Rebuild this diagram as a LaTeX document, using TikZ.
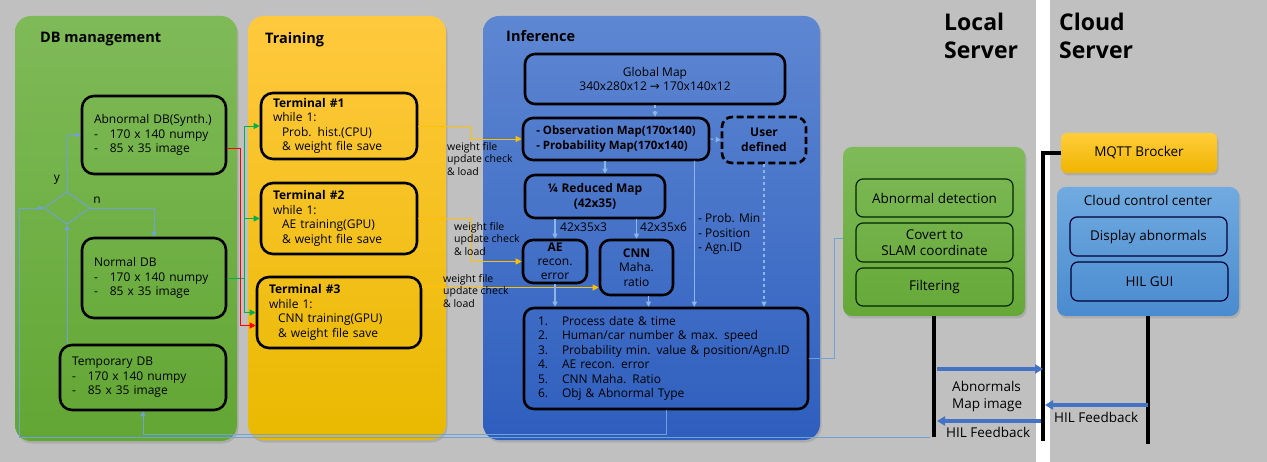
\documentclass[tikz,border=0pt]{standalone}
\usepackage{fontspec}
\setmainfont{Open Sans}
\newfontfamily\arrowfont{DejaVu Sans}
\usetikzlibrary{shapes.geometric,arrows.meta,shadows}

\definecolor{bgc}{HTML}{C0C0C0}
\definecolor{dbgA}{HTML}{7FBA58}
\definecolor{dbgB}{HTML}{62A634}
\definecolor{trA}{HTML}{FFC93E}
\definecolor{trB}{HTML}{E9B900}
\definecolor{infA}{HTML}{5E87D2}
\definecolor{infB}{HTML}{2E5EBE}
\definecolor{mqA}{HTML}{FFCD3A}
\definecolor{mqB}{HTML}{F0B400}
\definecolor{ccA}{HTML}{70AAE0}
\definecolor{ccB}{HTML}{4A8BCF}
\definecolor{flowc}{HTML}{6FA3D8}
\definecolor{iflowc}{HTML}{8DB6E8}
\definecolor{barrc}{HTML}{4472C4}
\definecolor{gline}{HTML}{00B050}
\definecolor{wline}{HTML}{FFC000}

\tikzset{
  panel/.style={rounded corners=16pt, inner sep=0pt, outer sep=0pt,
    drop shadow={shadow xshift=1.5pt, shadow yshift=-2.5pt, opacity=0.3}},
  ptitle/.style={anchor=west, inner sep=0pt, font=\fontsize{14.5}{17}\selectfont\bfseries},
  dbbox/.style={draw=black, line width=2.6pt, rounded corners=12pt, align=left,
    inner xsep=12pt, inner ysep=0pt},
  ibox/.style={draw=black, line width=2.6pt, rounded corners=10pt, align=center,
    inner sep=0pt},
  sbox/.style={draw=black!85!green, line width=1.2pt, rounded corners=7pt,
    inner sep=0pt, font=\fontsize{13.5}{17}\selectfont},
  small/.style={inner sep=0pt, align=left, font=\fontsize{10.5}{12.5}\selectfont},
  lbl/.style={inner sep=0pt, align=left, font=\fontsize{13.5}{17}\selectfont},
  head/.style={anchor=north west, inner sep=0pt, align=left,
    font=\fontsize{23}{28}\selectfont\bfseries},
  dbflow/.style={draw=flowc, line width=0.9pt, -{Triangle[length=5pt,width=5pt]}},
  iflow/.style={draw=iflowc, line width=1.1pt, -{Triangle[length=5pt,width=5pt]}},
  gflow/.style={draw=gline, line width=0.9pt},
  rflow/.style={draw=red, line width=0.9pt, -{Triangle[length=6pt,width=6pt]}},
  wflow/.style={draw=wline, line width=0.9pt, -{Triangle[length=6pt,width=6pt]}},
  blk/.style={draw=black, line width=4pt},
  barr/.style={draw=barrc, line width=3.5pt, -{Triangle[length=8pt,width=9pt]}},
}

\begin{document}
\begin{tikzpicture}[x=1pt,y=-1pt,font=\fontsize{12}{14.5}\selectfont]
  \fill[bgc] (0,0) rectangle (1267,462);
  \useasboundingbox (0,0) rectangle (1267,462);
  \fill[white] (1036,0) rectangle (1050,462);

  % three columns
  \node[panel, top color=dbgA, bottom color=dbgB, minimum width=222, minimum height=425] (dbp) at (126,228.5) {};
  \node[panel, top color=trA, bottom color=trB, minimum width=198, minimum height=424] (trp) at (347,228) {};
  \node[panel, top color=infA, bottom color=infB, minimum width=337, minimum height=424] (infp) at (651.5,228) {};

  \node[ptitle] (dbt) at (40,39) {DB management};
  \node[ptitle] (trt) at (265,40) {Training};
  \node[ptitle] (inft) at (506,36) {Inference};

  % DB management
  \node[dbbox, minimum width=144, minimum height=78, text width=120] (abn) at (154,135)
    {Abnormal DB(Synth.)\\-\hspace{12pt}170 x 140 numpy\\-\hspace{12pt}85 x 35 image};
  \node[dbbox, minimum width=144, minimum height=80, text width=120] (nrm) at (154,278)
    {Normal DB\\-\hspace{12pt}170 x 140 numpy\\-\hspace{12pt}85 x 35 image};
  \node[dbbox, minimum width=166, minimum height=65, text width=142] (tmp) at (143,377.5)
    {Temporary DB\\-\hspace{12pt}170 x 140 numpy\\-\hspace{12pt}85 x 35 image};
  \node[diamond, draw=flowc, line width=0.9pt, minimum width=46, minimum height=33, inner sep=0pt] (dec) at (67,208) {};
  \node[inner sep=0pt] (ly) at (57,180) {y};
  \node[inner sep=0pt] (ln) at (97,200) {n};

  % Training
  \node[dbbox, minimum width=156, minimum height=66, text width=132] (t1) at (339,126)
    {\textbf{Terminal \#1}\\while 1:\\\hspace*{9pt}Prob. hist.(CPU)\\\hspace*{9pt}\& weight file save};
  \node[dbbox, minimum width=156, minimum height=71, text width=132] (t2) at (339,218.5)
    {\textbf{Terminal \#2}\\while 1:\\\hspace*{9pt}AE training(GPU)\\\hspace*{9pt}\& weight file save};
  \node[dbbox, minimum width=164, minimum height=71, text width=140] (t3) at (339,312.5)
    {\textbf{Terminal \#3}\\while 1:\\\hspace*{9pt}CNN training(GPU)\\\hspace*{9pt}\& weight file save};

  % Inference
  \node[ibox, minimum width=260, minimum height=50] (gm) at (655,79)
    {Global Map\\340x280x12 {\arrowfont→} 170x140x12};
  \node[ibox, minimum width=186, minimum height=42, align=left, font=\fontsize{11.5}{14.5}\selectfont\bfseries] (obs) at (616,139)
    {- Observation Map(170x140)\\- Probability Map(170x140)};
  \node[ibox, dash pattern=on 7pt off 3.5pt, minimum width=84, minimum height=46, font=\fontsize{12}{14.5}\selectfont\bfseries] (ud) at (764,140)
    {User\\defined};
  \node[ibox, minimum width=140, minimum height=43, font=\fontsize{12}{15}\selectfont\bfseries] (red) at (595,196.5)
    {¼ Reduced Map\\(42x35)};
  \node[ibox, minimum width=64, minimum height=43, font=\fontsize{12}{14}\selectfont] (ae) at (555,261.5)
    {\textbf{AE}\\recon.\\error};
  \node[ibox, minimum width=73, minimum height=55, font=\fontsize{12}{14.5}\selectfont] (cnn) at (636.5,267.5)
    {\textbf{CNN}\\Maha.\\ratio};
  \node[ibox, minimum width=284, minimum height=101, align=left, text width=256, inner xsep=14pt] (res) at (666,358.5)
    {\makebox[24pt][l]{1.}Process date \& time\\
     \makebox[24pt][l]{2.}Human/car number \& max. speed\\
     \makebox[24pt][l]{3.}Probability min. value \& position/Agn.ID\\
     \makebox[24pt][l]{4.}AE recon. error\\
     \makebox[24pt][l]{5.}CNN Maha. Ratio\\
     \makebox[24pt][l]{6.}Obj \& Abnormal Type};
  \node[inner sep=0pt, anchor=west] (sz3) at (560,227) {42x35x3};
  \node[inner sep=0pt, anchor=west] (sz6) at (640,227) {42x35x6};
  \node[inner sep=0pt, anchor=west, align=left] (pmin) at (698,234) {- Prob. Min\\- Position\\- Agn.ID};

  % local server
  \node[panel, rounded corners=9pt, top color=dbgA, bottom color=dbgB!90!dbgA, minimum width=182, minimum height=169] (lpan) at (934,231.5) {};
  \node[sbox, minimum width=157, minimum height=38] (ad) at (934.5,198) {Abnormal detection};
  \node[sbox, minimum width=157, minimum height=39, align=center, font=\fontsize{13.5}{16}\selectfont] (cv) at (934.5,242.5) {Covert to\\SLAM coordinate};
  \node[sbox, minimum width=157, minimum height=38] (fl) at (934.5,287) {Filtering};

  % cloud server
  \node[panel, rounded corners=6pt, top color=mqA, bottom color=mqB, minimum width=156, minimum height=40, font=\fontsize{13.5}{17}\selectfont] (mq) at (1139,153) {MQTT Brocker};
  \node[panel, rounded corners=9pt, top color=ccA, bottom color=ccB, minimum width=182, minimum height=129] (cc) at (1148,251.5) {};
  \node[inner sep=0pt, font=\fontsize{13.5}{17}\selectfont] (cct) at (1148,200) {Cloud control center};
  \node[sbox, draw=black!80!blue, minimum width=157, minimum height=39] (da) at (1148.5,236.5) {Display abnormals};
  \node[sbox, draw=black!80!blue, minimum width=157, minimum height=39] (hg) at (1149.5,281.5) {HIL GUI};

  \node[head] (lsv) at (944,13) {Local\\Server};
  \node[head] (csv) at (1059,13) {Cloud\\Server};

  % server lines
  \draw[blk] (lpan.south) -- ++(0,121) coordinate (lsB);
  \draw[blk] (mq.west) -- ++(-18,0) coordinate (cl) -- ++(0,288);
  \draw[blk] (cc.south) -- ++(0,128);

  % DB flow
  \draw[dbflow] (dec.north) |- (abn.west);
  \draw[dbflow] (dec.east) -| (nrm.north);
  \draw[dbflow] (tmp.north -| dec.south) -- (dec.south);
  \coordinate (lpc) at ([xshift=-24pt]dec.west);
  \draw[dbflow] ([xshift=-4pt]lsB) -| (lpc) -- (dec.west);
  \draw[dbflow] (res.south) -- ++(0,24) -| (tmp.south);
  \draw[dbflow, -] (res.east) -- ++(25,0) |- ([yshift=-7pt]lpan.west);

  % DB to terminals
  \draw[gflow] (nrm.east) -- ++(17,0) coordinate (gj);
  \draw[gflow, -{Triangle[length=6pt,width=6pt]}] (gj) |- (t1.west);
  \draw[gflow, -{Triangle[length=6pt,width=6pt]}] (gj) |- (t2.west);
  \draw[gflow, -{Triangle[length=6pt,width=6pt]}] (gj) |- (t3.west);
  \draw[rflow] ([yshift=-13pt]abn.east) -- ++(13,0) |- ([yshift=-13pt]t3.west);

  % weight files
  \draw[wflow] (t1.east) -- ++(52,0) |- (obs.west);
  \draw[wflow] (t2.east) -- ++(53,0) |- (ae.west);
  \coordinate (t3o) at ([yshift=25pt]t3.east);
  \draw[wflow] (t3o) -- (t3o -| cnn.west);
  \node[small, anchor=west] (wl1) at (447,159) {weight file\\update check\\\& load};
  \node[small, anchor=west] (wl2) at (454,239) {weight file\\update check\\\& load};
  \node[small, anchor=west] (wl3) at (443,291) {weight file\\update check\\\& load};

  % inference flow
  \draw[iflow, dashed] (gm.south) -- (gm.south |- obs.north);
  \draw[iflow, dashed] (obs.east) -- (ud.west);
  \coordinate (ob1) at ([xshift=-11pt]obs.south);
  \draw[iflow] (ob1) -- (ob1 |- red.north);
  \draw[iflow] (ae.north |- red.south) -- (ae.north);
  \draw[iflow] (cnn.north |- red.south) -- (cnn.north);
  \draw[iflow] (ae.south) -- (ae.south |- res.north);
  \coordinate (cn1) at ([xshift=12pt]cnn.south);
  \draw[iflow] (cn1) -- (cn1 |- res.north);
  \coordinate (ob2) at ([xshift=-16pt]obs.south east);
  \draw[iflow] (ob2) -- (ob2 |- res.north);
  \draw[iflow, dashed] (ud.south) -- (ud.south |- res.north);

  % messages
  \coordinate (m1) at ([yshift=-53pt]lpan.south);
  \coordinate (m1e) at (m1 -| cl);
  \draw[barr] ([xshift=3pt]m1) -- (m1e);
  \coordinate (m2) at ([yshift=-89pt]cc.south);
  \coordinate (m2e) at (m2 -| cl);
  \draw[barr] (m2) -- ([xshift=2pt]m2e);
  \coordinate (m3) at ([yshift=-105pt]lpan.south);
  \coordinate (m3e) at (m3 -| cl);
  \draw[barr] ([xshift=-2pt]m3e) -- ([xshift=3pt]m3);
  \node[lbl, anchor=west] (amap) at (952,396) {Abnormals\\Map image};
  \node[lbl, anchor=west] (hf1) at (1054,417) {HIL Feedback};
  \node[lbl, anchor=west] (hf2) at (946,432) {HIL Feedback};
\end{tikzpicture}
\end{document}
